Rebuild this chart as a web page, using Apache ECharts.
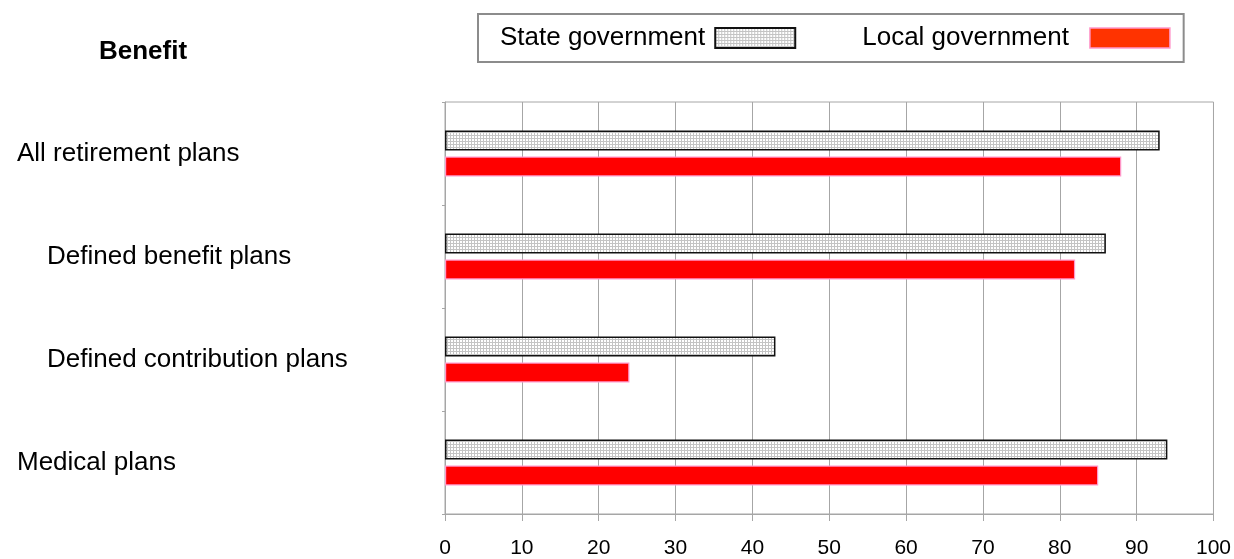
<!DOCTYPE html>
<html>
<head>
<meta charset="utf-8">
<script src="https://cdn.jsdelivr.net/npm/echarts@6/dist/echarts.min.js"></script>
<style>
html,body{margin:0;padding:0;background:#fff;}
#chart{width:1234px;height:559px;}
</style>
</head>
<body>
<div id="chart"></div>
<script>
const categories = ['All retirement plans', 'Defined benefit plans', 'Defined contribution plans', 'Medical plans'];
const indented = [false, true, true, false];
const stateValues = [93, 86, 43, 94];
const localValues = [88, 82, 24, 85];
const xTicks = [0, 10, 20, 30, 40, 50, 60, 70, 80, 90, 100];
const seriesNames = ['State government', 'Local government'];

// grid pattern for state bars
const pc = document.createElement('canvas');
pc.width = 3; pc.height = 3;
const ctx = pc.getContext('2d');
ctx.fillStyle = '#ffffff';
ctx.fillRect(0, 0, 3, 3);
ctx.fillStyle = '#c4c4c4';
ctx.fillRect(0, 0, 3, 1);
ctx.fillRect(0, 0, 1, 3);

const FONT = 'Liberation Sans, Arial, sans-serif';
const chart = echarts.init(document.getElementById('chart'), null, {renderer: 'canvas'});
chart.setOption({
  animation: false,
  backgroundColor: '#ffffff',
  title: {
    text: 'Benefit',
    left: 94,
    top: 34,
    textStyle: {fontFamily: FONT, fontSize: 26, fontWeight: 'bold', color: '#000'}
  },
  legend: {
    data: [
      {name: seriesNames[0]},
      {name: seriesNames[1], itemStyle: {color: '#ff3300', borderColor: '#ff99cc', borderWidth: 1.5},
       textStyle: {fontFamily: FONT, fontSize: 26, color: '#000', padding: [0, 16, 0, 0]}}
    ],
    left: 478,
    top: 14,
    align: 'right',
    orient: 'horizontal',
    itemWidth: 80,
    itemHeight: 20,
    itemGap: 66,
    padding: [11, 13, 11, 22],
    borderColor: '#8c8c8c',
    borderWidth: 2,
    icon: 'rect',
    textStyle: {fontFamily: FONT, fontSize: 26, color: '#000', padding: [0, 5, 0, 0]}
  },
  grid: {
    left: 445, right: 20, top: 102, bottom: 44,
    show: true, borderColor: '#a6a6a6', borderWidth: 1, backgroundColor: 'transparent',
    containLabel: false
  },
  xAxis: {
    type: 'value',
    min: 0, max: 100, interval: 10,
    axisLine: {show: true, lineStyle: {color: '#a6a6a6', width: 1}},
    axisTick: {show: true, length: 7, lineStyle: {color: '#a6a6a6'}},
    splitLine: {show: true, lineStyle: {color: '#a6a6a6', width: 1}},
    axisLabel: {
      fontFamily: FONT, fontSize: 21, color: '#000', margin: 24,
      formatter: function (v) { return xTicks.indexOf(v) >= 0 ? String(v) : ''; }
    }
  },
  yAxis: {
    type: 'category',
    data: categories,
    inverse: true,
    axisLine: {show: true, lineStyle: {color: '#a6a6a6', width: 1}},
    axisTick: {show: true, length: 3, lineStyle: {color: '#a6a6a6'}},
    splitLine: {show: false},
    axisLabel: {
      align: 'left',
      margin: 428,
      formatter: function (v, i) { return indented[i] ? '{b|' + v + '}' : '{a|' + v + '}'; },
      rich: {
        a: {fontFamily: FONT, fontSize: 26, color: '#000'},
        b: {fontFamily: FONT, fontSize: 26, color: '#000', padding: [0, 0, 0, 30]}
      }
    }
  },
  series: [
    {
      name: seriesNames[0],
      type: 'bar',
      data: stateValues,
      barWidth: 20,
      barGap: '30%',
      itemStyle: {color: {image: pc, repeat: 'repeat'}, borderColor: '#111', borderWidth: 1.5}
    },
    {
      name: seriesNames[1],
      type: 'bar',
      data: localValues,
      barWidth: 20,
      barGap: '30%',
      itemStyle: {color: '#ff0000', borderColor: '#ff99cc', borderWidth: 1.2}
    }
  ]
});
</script>
</body>
</html>
